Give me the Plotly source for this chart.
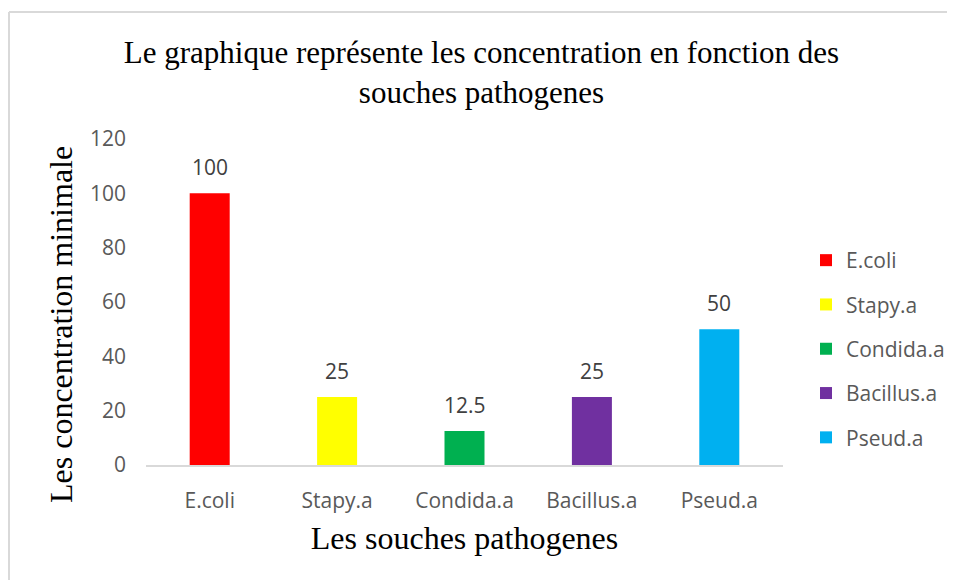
import plotly.graph_objects as go

categories = ["E.coli", "Stapy.a", "Condida.a", "Bacillus.a", "Pseud.a"]
values = [100, 25, 12.5, 25, 50]
value_labels = ["100", "25", "12.5", "25", "50"]
colors = ["#FF0000", "#FFFF00", "#00B050", "#7030A0", "#00B0F0"]
y_ticks = [0, 20, 40, 60, 80, 100, 120]

# page body has an 8px margin, so the figure is sized to fit the window
W, H = 947, 572
L, R, T, B = 138, 172, 131, 115
pw, ph = W - L - R, H - T - B

LABEL_FONT = "Open Sans"
LABEL_SIZE = 21

fig = go.Figure()
for c, v, col in zip(categories, values, colors):
    fig.add_trace(go.Bar(
        x=[c], y=[v], name=c,
        marker=dict(color=col, line=dict(width=0)),
        width=0.314, legendgroup=c,
    ))

def px_x(p):
    return (p - L) / pw

def px_y(p):
    return (H - B - p) / ph

annotations = [
    dict(x=c, y=v, xref="x", yref="y", text=lab, showarrow=False,
         yanchor="bottom", yshift=10,
         font=dict(family=LABEL_FONT, size=LABEL_SIZE, color="#404040"))
    for c, v, lab in zip(categories, values, value_labels)
]
annotations.append(dict(
    text="Les concentration minimale", xref="paper", yref="paper",
    x=px_x(53), y=px_y(316), xanchor="center", yanchor="middle",
    textangle=-90, showarrow=False,
    font=dict(family="Liberation Serif", size=32, color="#000000"),
))

fig.update_layout(
    width=W, height=H,
    margin=dict(l=L, r=R, t=T, b=B, autoexpand=False),
    paper_bgcolor="white", plot_bgcolor="white",
    barmode="overlay",
    title=dict(
        text="Le graphique représente les concentration en fonction des<br>souches pathogenes",
        font=dict(family="Liberation Serif", size=31, color="#000000"),
        x=0.5, xref="container", xanchor="center",
        y=1 - 55 / H, yref="container", yanchor="top",
    ),
    xaxis=dict(
        categoryorder="array", categoryarray=categories,
        showgrid=False, showline=True, linecolor="#D9D9D9", linewidth=2,
        ticks="", ticklabelstandoff=16,
        tickfont=dict(family=LABEL_FONT, size=LABEL_SIZE, color="#595959"),
        title=dict(text="Les souches pathogenes",
                   font=dict(family="Liberation Serif", size=32, color="#000000"),
                   standoff=13),
        automargin=False,
    ),
    yaxis=dict(
        range=[0, 120], tickvals=y_ticks, showgrid=False, zeroline=False,
        showline=False, ticks="", ticklabelstandoff=19,
        tickfont=dict(family=LABEL_FONT, size=LABEL_SIZE, color="#595959"),
        automargin=False,
    ),
    legend=dict(
        x=px_x(798), y=px_y(232), xanchor="left", yanchor="top",
        font=dict(family=LABEL_FONT, size=LABEL_SIZE, color="#595959"),
        tracegroupgap=14, bgcolor="rgba(0,0,0,0)",
    ),
    annotations=annotations,
    shapes=[
        dict(type="line", xref="paper", yref="paper",
             x0=px_x(1), x1=px_x(W + 5), y0=px_y(4), y1=px_y(4),
             line=dict(color="#D9D9D9", width=2)),
        dict(type="line", xref="paper", yref="paper",
             x0=px_x(1), x1=px_x(1), y0=px_y(4), y1=px_y(H + 5),
             line=dict(color="#D9D9D9", width=2)),
    ],
)

fig.write_html("out.html")
